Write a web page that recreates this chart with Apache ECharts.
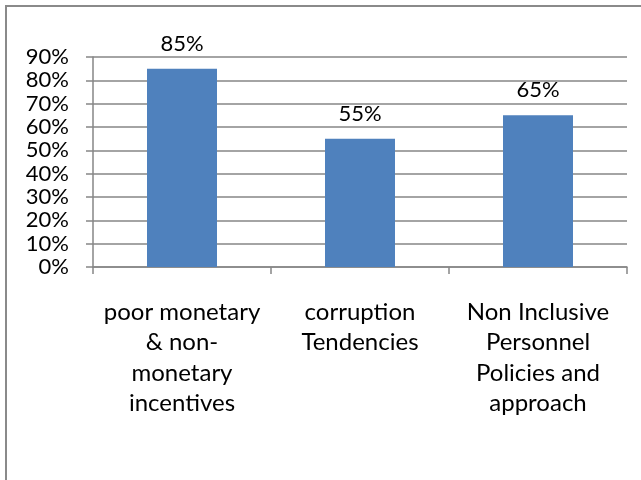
<!DOCTYPE html>
<html><head><meta charset="utf-8">
<script src="https://cdn.jsdelivr.net/npm/echarts@6/dist/echarts.min.js"></script>
<style>html,body{margin:0;padding:0;background:#fff}#c{width:641px;height:480px}</style>
</head><body><div id="c"></div>
<script>
const categories = ["poor monetary\n& non-\nmonetary\nincentives", "corruption\nTendencies", "Non Inclusive\nPersonnel\nPolicies and\napproach"];
const values = [0.85, 0.55, 0.65];
const yTicks = [0, 0.1, 0.2, 0.3, 0.4, 0.5, 0.6, 0.7, 0.8, 0.9];

const chart = echarts.init(document.getElementById('c'), null, {renderer: 'canvas'});
const FONT = 'Lato';
chart.setOption({
  animation: false,
  graphic: [{
    type: 'rect', shape: {x: 6, y: 6, width: 700, height: 600},
    style: {fill: 'none', stroke: '#8a8a8a', lineWidth: 2}, silent: true
  }],
  grid: {left: 93, right: 14, top: 57, bottom: 213, containLabel: false},
  xAxis: {
    type: 'category', data: categories,
    axisLine: {lineStyle: {color: '#868686', width: 1.5}},
    axisTick: {show: true, alignWithLabel: false, length: 7, lineStyle: {color: '#868686', width: 1.5}},
    axisLabel: {color: '#000', fontFamily: FONT, fontSize: 24, lineHeight: 30.5, margin: 30, interval: 0}
  },
  yAxis: {
    type: 'value', min: yTicks[0], max: yTicks[yTicks.length - 1], interval: 0.1,
    axisLine: {show: true, lineStyle: {color: '#868686', width: 1.5}},
    axisTick: {show: true, length: 7, lineStyle: {color: '#868686', width: 1.5}},
    splitLine: {show: true, lineStyle: {color: '#868686', width: 1.5}},
    axisLabel: {color: '#000', fontFamily: FONT, fontSize: 22, margin: 24,
      formatter: v => Math.round(v * 100) + '%'}
  },
  series: [{
    type: 'bar', data: values, barWidth: 70,
    itemStyle: {color: '#4F81BD'},
    label: {show: true, position: 'top', distance: 14, color: '#000', fontFamily: FONT, fontSize: 22,
      formatter: p => Math.round(p.value * 100) + '%'}
  }]
});
</script></body></html>
